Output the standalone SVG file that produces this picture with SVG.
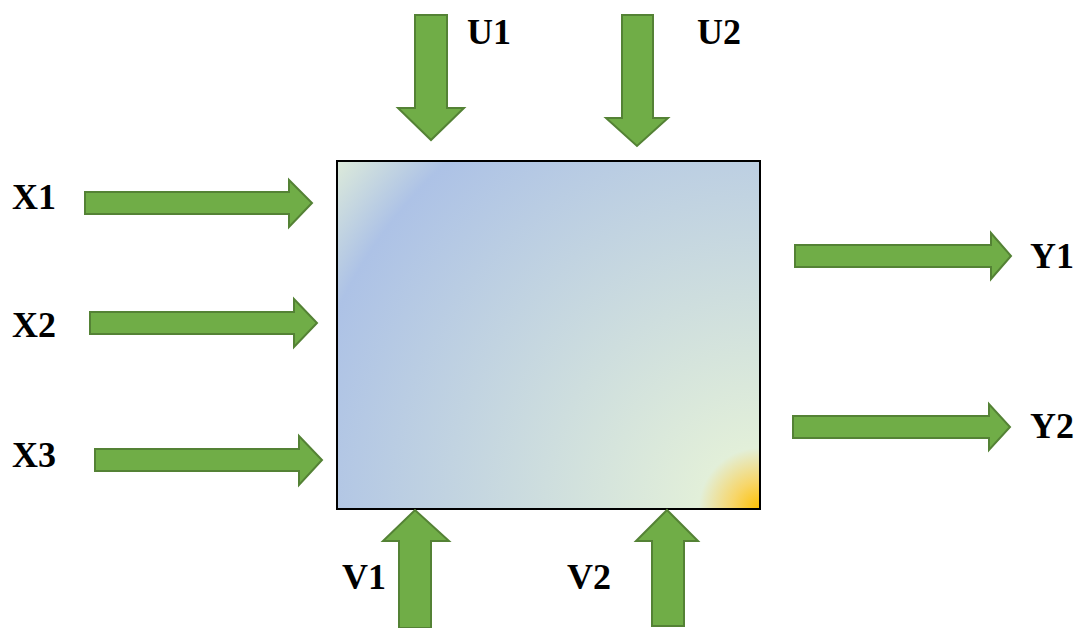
<svg xmlns="http://www.w3.org/2000/svg" width="1078" height="628" viewBox="0 0 1078 628">
<style>
.arr{fill:#70AD47;stroke:#548235;stroke-width:2;stroke-linejoin:miter}
.lbl{font-family:"Liberation Serif","Times New Roman",serif;font-weight:bold;font-size:36px;fill:#000}
</style>
<defs>
<radialGradient id="g" gradientUnits="userSpaceOnUse" cx="760" cy="509" r="556">
<stop offset="0" stop-color="#ffc000"/>
<stop offset="0.05" stop-color="#f7d66a"/>
<stop offset="0.11" stop-color="#e2efd9"/>
<stop offset="0.84" stop-color="#adc2e6"/>
<stop offset="1" stop-color="#e2efd9"/>
</radialGradient>
</defs>
<g id="box"><rect x="337" y="161" width="423" height="348" fill="url(#g)" stroke="#000" stroke-width="2"/></g>
<g id="connectors">
<polygon class="arr" points="415,15 447,15 447,108 464,108 431,140 398,108 415,108"/>
<polygon class="arr" points="622,15 653,15 653,118 668,118 637,146 606,118 622,118"/>
<polygon class="arr" points="85,192 289,192 289,180 312,203 289,227 289,214 85,214"/>
<polygon class="arr" points="90,312 294,312 294,299 317,323 294,347 294,334 90,334"/>
<polygon class="arr" points="95,449 299,449 299,436 322,460 299,485 299,471 95,471"/>
<polygon class="arr" points="795,245 991,245 991,233 1011,256 991,279 991,267 795,267"/>
<polygon class="arr" points="793,416 989,416 989,404 1010,427 989,450 989,438 793,438"/>
<polygon class="arr" points="399,628 399,541 383,541 415,510 449,541 431,541 431,628"/>
<polygon class="arr" points="652,626 652,541 636,541 667,510 698,541 684,541 684,626"/>
</g>
<g id="labels">
<text class="lbl" x="467" y="44">U1</text>
<text class="lbl" x="697" y="44">U2</text>
<text class="lbl" x="12" y="209">X1</text>
<text class="lbl" x="12" y="337">X2</text>
<text class="lbl" x="12" y="467">X3</text>
<text class="lbl" x="1030" y="268">Y1</text>
<text class="lbl" x="1030" y="438">Y2</text>
<text class="lbl" x="342" y="589">V1</text>
<text class="lbl" x="567" y="589">V2</text>
</g>
</svg>
